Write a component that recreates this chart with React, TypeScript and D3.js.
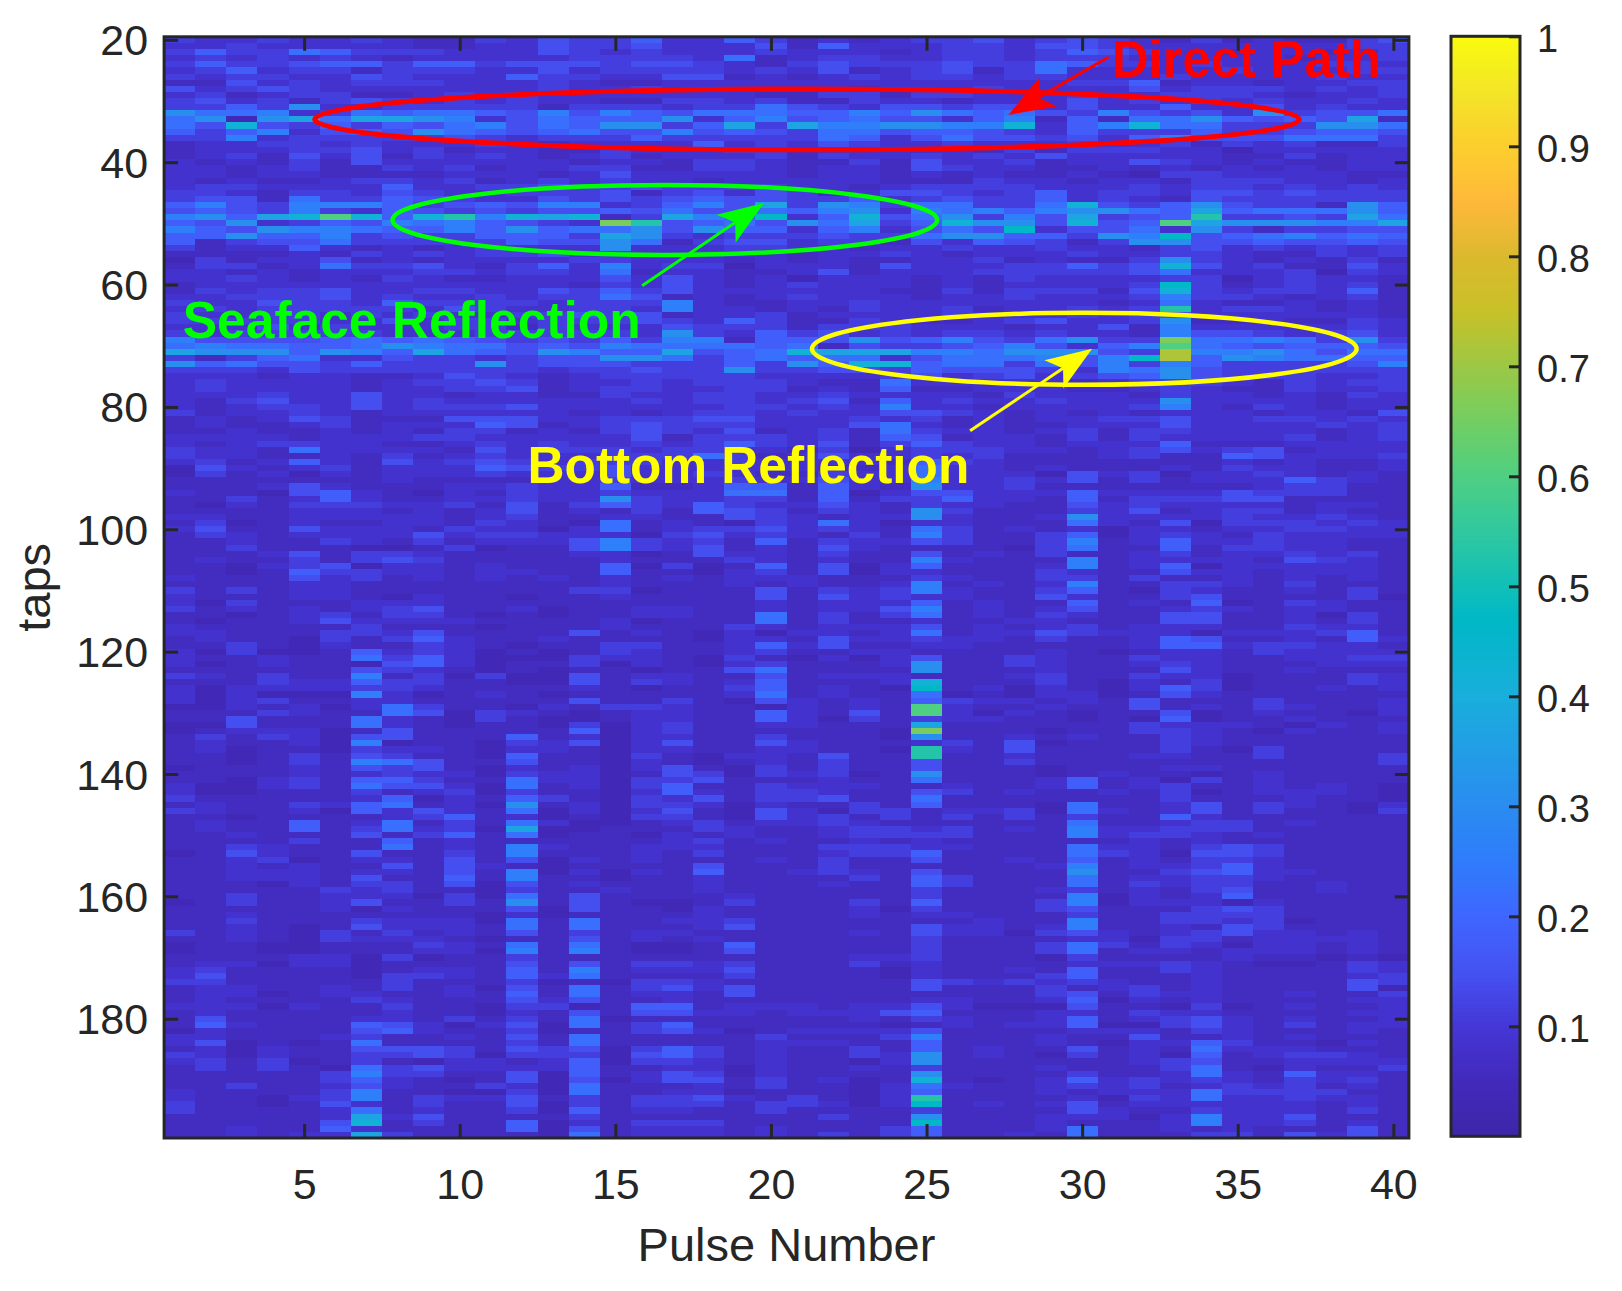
import { useEffect, useRef } from 'react';
import * as d3 from 'd3';

const WIDTH = 1622;
const HEIGHT = 1291;

// Pulse 1..40 across, taps 20..199 down. One character per cell;
// the character is an index into LEVELS.
const LEVELS: Record<string, number> = {
  '0': 0.04, '1': 0.06, '2': 0.085, '3': 0.115, '4': 0.145, '5': 0.18, '6': 0.22, '7': 0.26,
  '8': 0.31, '9': 0.37, a: 0.42, b: 0.47, c: 0.53, d: 0.6, e: 0.66, f: 0.72
};

const taps20to59 = [
  '32232 23211 32433 52253 12123 34234 32131 21134',
  '22322 22211 22433 42224 15222 33244 32222 22233',
  '35336 53332 22432 32223 22212 33235 43221 22123',
  '23232 32122 22233 33261 23322 33233 32222 21223',
  '35334 55355 34443 44321 34333 43365 33232 22332',
  '23523 31333 22423 33323 24123 41362 22223 22233',
  '32332 24322 25332 24412 12323 32332 22322 22322',
  '11423 23332 22321 12222 22222 22223 35122 12233',
  '42343 22222 22322 32222 22122 23222 24233 32323',
  '23123 31123 23222 22221 13313 32223 22333 21223',
  '34231 34323 23221 13323 11322 12224 23232 32232',
  '33538 22333 33133 32336 43244 34424 22522 42322',
  '86672 36566 54747 54666 55758 65643 74342 83446',
  '68089 69987 24655 58257 45644 25715 16685 45491',
  '64a43 53546 74658 83593 97788 77a25 7a663 33886',
  '53572 45486 54564 47454 36645 54325 33353 34554',
  '33723 33334 32333 53333 36524 64434 25744 46663',
  '12233 23222 32122 22523 24322 32223 22313 23113',
  '12223 34231 22113 22233 12222 21313 33220 22222',
  '12314 24132 32123 12223 13223 23242 22221 13122',
  '21213 14222 22212 21332 11314 22312 24321 21122',
  '22123 11323 12233 11332 12214 32211 21212 12122',
  '22122 11112 22124 22222 12212 12112 10332 22211',
  '21211 23323 12323 22122 22211 13221 22133 32212',
  '23322 22522 33433 43333 22123 33322 23233 23232',
  '33213 32432 23334 13424 31244 32352 33244 34333',
  '34416 33543 22434 34544 33523 43352 32143 33333',
  '57437 77534 54772 35749 38736 6336a 43584 33185',
  '45437 32543 43445 46446 57827 67578 86595 66685',
  '7859a da5ac 7a9a1 3975b 25a46 83749 345c3 34396',
  '54823 54767 5432e c4564 86935 a884a 45d98 88779',
  '75487 76557 58566 84855 25724 64b24 46283 13344',
  '55855 73433 55539 83233 34336 88553 87b45 67565',
  '51344 63333 35448 61344 23314 25431 38844 54454',
  '31225 21212 32228 22233 22122 32232 21342 32323',
  '11112 13232 33423 22322 12232 12223 22332 11323',
  '03122 41212 22233 22212 12112 23121 13832 12131',
  '13312 63342 13527 23302 22142 22335 34a42 31142',
  '22121 22233 23326 12211 24122 23333 34622 23032',
  '22321 21321 12224 24212 02221 21322 22330 23221'
];

const taps60to99 = [
  '12222 22222 22213 24212 32221 21222 23b31 23231',
  '13233 42233 22435 34222 22211 31333 14a32 33251',
  '22333 42322 32336 41212 32221 22322 23733 21231',
  '32243 32533 33233 37211 22322 22222 12621 12121',
  '23233 33324 32233 27221 21322 31223 23c23 32121',
  '32233 23232 23343 41223 12222 32223 23422 22221',
  '33333 22423 32333 43253 11321 12342 23811 21132',
  '22242 32223 31322 24333 13332 22122 41722 22232',
  '32333 33222 33333 28325 34232 33232 21744 32342',
  '74444 56565 43435 37715 54845 74368 33e66 76383',
  '67665 56876 64547 66665 61433 45742 57d65 45554',
  '98885 87596 54875 59456 a9997 76888 43f77 86466',
  '31356 22433 23448 86356 56624 66674 7bf58 76655',
  '85644 35333 83444 33353 85aa5 66364 73753 33347',
  '33324 33333 33233 43383 34435 44432 76843 33333',
  '22212 21124 32123 33332 22234 23423 45843 33223',
  '23222 21233 43122 32333 21162 22221 23332 13233',
  '23222 21223 34123 32233 12151 12221 12321 13223',
  '22232 24221 22113 22332 23222 21322 21322 12132',
  '21342 24232 22222 32332 34152 32232 22822 22122',
  '21233 24233 34222 22233 23272 21222 23721 32122',
  '31223 21222 22212 12332 32244 32121 21222 12214',
  '12124 31114 44223 33442 22323 12122 33422 33232',
  '12112 31222 54123 43332 22462 12112 22422 22323',
  '11211 21213 31213 43241 23163 22123 13322 22123',
  '22221 22233 22222 41333 23154 12213 13222 23123',
  '21233 22112 32322 32353 24135 32212 22511 12222',
  '32216 22221 42333 23322 13023 33221 23423 41222',
  '32211 21312 32223 33631 24223 23111 23115 42223',
  '23125 21423 43233 32232 22215 32111 11112 12112',
  '04212 31222 54334 22222 21126 22121 11213 22112',
  '03120 21222 32224 22321 13226 22204 23022 32121',
  '11111 11211 11223 22232 24227 22324 13122 25321',
  '11124 21112 23225 11255 15218 22311 11111 23311',
  '21104 52102 13223 22266 15024 42225 22224 33311',
  '11312 52112 23228 32233 15133 52215 13334 41111',
  '10213 33223 14135 32532 24213 22114 23222 21221',
  '11112 22121 24121 31543 13218 31113 24123 31211',
  '22112 22221 23112 21143 21228 21128 22223 22321',
  '13012 11221 32106 12103 26202 21116 21403 33232'
];

const taps100to139 = [
  '24114 22213 22026 12334 23216 31212 02212 23322',
  '13212 22242 33222 03423 21317 31135 02321 32222',
  '11211 32131 22247 32315 13224 31137 12522 32211',
  '11311 10013 01147 32412 14211 11036 11513 32211',
  '11124 13321 11122 01422 13114 12131 12312 23231',
  '12113 13431 11112 11132 12117 21117 12222 14321',
  '11023 40221 21115 03015 14025 11127 12502 22221',
  '11015 33221 22115 11023 14022 11132 11422 12221',
  '21114 23121 21212 12122 21113 21133 13112 12121',
  '11112 21111 11112 11121 21127 12127 11332 13111',
  '31312 21111 11133 01114 13237 21135 10321 12131',
  '21112 21021 10112 11114 14232 21142 11341 11130',
  '20311 12221 11111 11112 12225 12115 12150 13211',
  '31212 12341 12011 22112 12247 12124 11232 12211',
  '11012 31331 01011 22116 13136 12132 11441 12031',
  '10112 42222 11112 01116 13112 11221 11441 12131',
  '21111 13111 01112 11132 12224 12123 12221 13221',
  '22111 33241 11141 21020 22126 12243 22202 22351',
  '12110 31352 11211 11022 14223 22131 12541 12152',
  '11310 21132 10113 31125 24112 21111 12552 33221',
  '20300 15232 01013 21123 11221 11121 01221 32222',
  '21121 16352 00032 21031 02024 11321 13221 12233',
  '20121 10452 01130 21023 11128 11321 12321 11222',
  '11111 14321 01011 01146 11118 11121 11421 12111',
  '32131 17130 30041 22114 12221 11231 13220 11132',
  '11132 25331 10041 32125 1112a 11131 02130 11132',
  '20222 23321 11121 01135 1210b 12021 02530 11212',
  '20200 07201 21011 11126 12116 01022 01421 11111',
  '20231 12211 11141 13104 21215 32212 14111 31112',
  '00212 02631 10213 32110 2121d 21121 14121 32112',
  '11132 11640 32101 22115 2141d 20210 11401 21102',
  '11411 16210 31001 22115 20313 22110 10501 12111',
  '00411 16210 11030 23112 21119 11111 13222 10212',
  '01222 01411 11150 23111 1110e 11101 13321 02112',
  '13132 04411 15120 22113 11108 11212 11321 11111',
  '12112 07011 03240 24114 21112 31401 11321 11111',
  '12011 03221 02210 22112 2110c 21411 11310 31111',
  '11013 14311 05110 31022 1411c 11211 12211 31113',
  '11013 17641 14110 21012 13114 11311 11111 11113',
  '01112 14341 02120 24103 13114 11101 11221 11111'
];

const taps140to179 = [
  '11112 12322 03220 14303 23018 11101 21101 21111',
  '11023 15531 16220 33411 12116 11125 12031 21111',
  '20023 16442 06120 35113 22211 21125 12311 21210',
  '20011 13123 03110 25213 32114 31211 21301 22210',
  '31111 12502 15310 32413 34116 11111 11311 12110',
  '12113 25612 08120 33202 11315 11106 11241 32102',
  '32112 05242 16020 24104 20331 22306 21241 31103',
  '11011 11235 12010 33104 23131 31313 11521 11111',
  '12115 12613 16200 12312 23211 11116 11233 12111',
  '12115 13623 09001 11321 12332 31217 22333 11111',
  '11211 14135 16011 02121 12333 31117 23321 21111',
  '11113 11512 11111 12312 11212 11111 12121 11111',
  '11321 11612 17211 22211 13332 21116 22134 31111',
  '01421 14113 17111 21311 12335 11116 32044 31111',
  '11230 12214 14021 21112 13114 11215 12133 21111',
  '11212 11414 21011 11411 13111 11127 12235 21111',
  '11222 12214 17020 21511 23214 11118 11345 22111',
  '11222 14115 17110 11211 11315 31116 12233 21111',
  '11102 13314 04121 11211 12115 31116 13233 11211',
  '11111 32311 03112 11211 11113 11123 12134 11211',
  '11311 22203 06141 11121 11113 11117 02125 11111',
  '01311 24113 18141 00131 11315 11137 02220 21111',
  '11111 20211 14041 10211 11203 11134 11134 31111',
  '11211 11111 02011 11211 11212 21113 11333 31111',
  '11311 13222 06161 12231 11111 12117 11332 30111',
  '11210 14222 16161 11241 11114 22127 11214 31111',
  '31210 31312 14131 22111 11214 22034 21234 22121',
  '11210 32221 01141 21211 11113 11112 20331 22221',
  '01100 11132 16161 00151 11113 11136 31320 22121',
  '01100 11122 07171 00141 11113 11136 12212 22121',
  '11112 20301 13111 11111 11223 11103 11112 11010',
  '12202 20111 14141 33231 11312 11112 22321 00132',
  '23111 10122 15171 22241 11102 11215 11321 11132',
  '24111 10332 15261 11131 11102 11135 11121 11123',
  '33111 11311 13010 33211 11114 32323 21121 11143',
  '12211 21312 04161 34241 11114 11131 23121 11140',
  '12201 22112 15161 22141 11111 11134 13221 12113',
  '12111 13211 14241 12111 11112 21125 02121 11122',
  '22202 11311 03301 55122 21224 20004 11030 12112',
  '12111 11211 02141 44221 22245 11122 13221 11122'
];

const taps180to199 = [
  '14111 12213 13160 11111 11213 21125 12342 12112',
  '15211 15420 24061 35111 11101 21225 00342 13122',
  '02111 14521 13011 34201 22224 11112 22132 11121',
  '22111 23112 14161 11113 11137 11121 14112 12111',
  '24010 16111 13161 11112 22115 11121 02253 11021',
  '12021 14443 14340 35312 11315 12114 12162 22111',
  '32021 13343 03330 45312 11328 12103 12051 23321',
  '23130 13102 21250 33212 11028 11111 12341 12222',
  '13131 06342 22251 12202 11213 11121 11361 02113',
  '11111 37331 14051 24302 11118 11113 11262 15221',
  '11111 35210 14040 24413 1201a 10125 23232 13231',
  '11311 24211 32061 11213 11026 21123 23123 23121',
  '21111 37110 03061 12201 11025 11121 22263 33311',
  '21102 37132 24131 33421 3102c 11112 03262 23221',
  '31101 42131 14031 33313 3202b 12124 12222 22121',
  '31111 26121 13051 22113 11113 11114 21132 22131',
  '11111 29241 11131 11111 13118 11122 20272 24111',
  '11111 4a131 15021 33311 1111b 11121 11272 23121',
  '11211 52111 15041 22212 11135 11126 11212 11141',
  '11212 29311 11061 22212 13135 11216 11133 14241'
];

const pulses = d3.range(1, 41);
const firstTap = 20;
const xTicks = [5, 10, 15, 20, 25, 30, 35, 40];
const yTicks = [20, 40, 60, 80, 100, 120, 140, 160, 180];
const cbTicks = [0.1, 0.2, 0.3, 0.4, 0.5, 0.6, 0.7, 0.8, 0.9, 1];

const cmapStops = [0, 0.05, 0.1, 0.15, 0.2, 0.25, 0.3, 0.4, 0.47, 0.5, 0.55, 0.6, 0.65, 0.7, 0.75, 0.8, 0.85, 0.9, 0.95, 1];
const cmapColors = [
  '#3e26a8', '#4229bb', '#4536d6', '#4552f2', '#3f66ff', '#2f7cfb', '#2a8cf0', '#19aedc', '#00b8c6', '#10bfb8',
  '#30c8a0', '#4fcf82', '#72ce62', '#9cc845', '#c8c128', '#dbb92e', '#ffb93a', '#fcce2e', '#f3e528', '#f9fb0e'
];

const intensity = [...taps20to59, ...taps60to99, ...taps100to139, ...taps140to179, ...taps180to199]
  .map(row => row.replace(/ /g, '').split('').map(c => LEVELS[c]));

// Annotations, in pulse/tap units
const ellipses = [
  { cx: 21.16, cy: 33.0, rx: 15.82, ry: 4.98, color: '#ff0000', sw: 5 },
  { cx: 16.59, cy: 49.43, rx: 8.75, ry: 5.72, color: '#00ff00', sw: 4.5 },
  { cx: 30.07, cy: 70.5, rx: 8.75, ry: 5.88, color: '#ffff00', sw: 4.5 }
];
const arrows = [
  { x0: 30.85, y0: 22.8, x1: 27.63, y1: 32.27, color: '#ff0000' },
  { x0: 15.86, y0: 60.2, x1: 19.78, y1: 46.65, color: '#00ff00' },
  { x0: 26.4, y0: 83.9, x1: 30.32, y1: 70.5, color: '#ffff00' }
];
const notes = [
  { text: 'Direct Path', x: 30.95, y: 26.05, size: 51, color: '#ff0000' },
  { text: 'Seaface Reflection', x: 1.1, y: 68.75, size: 51.5, color: '#00ff00' },
  { text: 'Bottom Reflection', x: 12.18, y: 92.4, size: 51.3, color: '#ffff00' }
];

const App = () => {
  const svgRef = useRef<SVGSVGElement | null>(null);

  useEffect(() => {
    if (!svgRef.current) return;
    const svg = d3.select(svgRef.current);
    svg.selectAll('*').remove();

    const plot = { left: 164.1, right: 1408.9, top: 36.8, bottom: 1138 };
    const bar = { left: 1451, right: 1520, top: 36.3, bottom: 1136.3 };
    const ink = '#262626';

    const x = d3.scaleLinear().domain([0.5, 40.5]).range([plot.left, plot.right]);
    const y = d3.scaleLinear().domain([19.5, 199.5]).range([plot.top, plot.bottom]);
    const color = d3.scaleLinear<string>().domain(cmapStops).range(cmapColors).interpolate(d3.interpolateRgb);
    const cbY = d3.scaleLinear().domain([0, 1]).range([bar.bottom, bar.top]);

    // heat map cells
    svg.append('g')
      .attr('shape-rendering', 'crispEdges')
      .selectAll('g')
      .data(intensity)
      .join('g')
      .each(function (row, r) {
        d3.select(this).selectAll('rect')
          .data(row)
          .join('rect')
          .attr('x', (_, c) => x(pulses[c] - 0.5))
          .attr('y', y(firstTap + r - 0.5))
          .attr('width', x(1.5) - x(0.5) + 0.5)
          .attr('height', y(1.5) - y(0.5) + 0.5)
          .attr('fill', d => color(d));
      });

    // annotations
    svg.append('g').selectAll('ellipse')
      .data(ellipses)
      .join('ellipse')
      .attr('cx', d => x(d.cx))
      .attr('cy', d => y(d.cy))
      .attr('rx', d => x(d.rx) - x(0))
      .attr('ry', d => y(d.ry) - y(0))
      .attr('fill', 'none')
      .attr('stroke', d => d.color)
      .attr('stroke-width', d => d.sw);

    arrows.forEach(a => {
      const tx = x(a.x1), ty = y(a.y1);
      const dx = x(a.x0) - tx, dy = y(a.y0) - ty;
      const len = Math.hypot(dx, dy);
      const ux = dx / len, uy = dy / len;
      const head = 46, half = 17, notch = 35;
      svg.append('line')
        .attr('x1', x(a.x0)).attr('y1', y(a.y0))
        .attr('x2', tx + ux * notch).attr('y2', ty + uy * notch)
        .attr('stroke', a.color).attr('stroke-width', 3);
      const pts = [
        [tx, ty],
        [tx + ux * head - uy * half, ty + uy * head + ux * half],
        [tx + ux * notch, ty + uy * notch],
        [tx + ux * head + uy * half, ty + uy * head - ux * half]
      ];
      svg.append('polygon').attr('points', pts.join(' ')).attr('fill', a.color);
    });

    svg.append('g').selectAll('text')
      .data(notes)
      .join('text')
      .attr('x', d => x(d.x))
      .attr('y', d => y(d.y))
      .attr('font-size', d => d.size)
      .attr('font-weight', 700)
      .attr('fill', d => d.color)
      .text(d => d.text);

    // axes box
    svg.append('rect')
      .attr('x', plot.left).attr('y', plot.top)
      .attr('width', plot.right - plot.left).attr('height', plot.bottom - plot.top)
      .attr('fill', 'none').attr('stroke', ink).attr('stroke-width', 3);

    const styleAxis = (g: d3.Selection<SVGGElement, unknown, null, undefined>, size: number, dy?: string) => {
      g.select('.domain').remove();
      g.selectAll('.tick line').attr('stroke', ink).attr('stroke-width', 3);
      const labels = g.selectAll('.tick text').attr('fill', ink).attr('font-size', size).attr('font-family', 'Liberation Sans');
      if (dy) labels.attr('dy', dy);
    };

    svg.append('g')
      .attr('transform', `translate(0,${plot.bottom})`)
      .call(d3.axisBottom(x).tickValues(xTicks).tickSizeInner(-14).tickSizeOuter(0).tickPadding(30))
      .call(g => styleAxis(g as any, 43));
    svg.append('g')
      .attr('transform', `translate(0,${plot.top})`)
      .call(d3.axisTop(x).tickValues(xTicks).tickSizeInner(-14).tickSizeOuter(0).tickFormat(() => ''))
      .call(g => styleAxis(g as any, 43));
    svg.append('g')
      .attr('transform', `translate(${plot.left},0)`)
      .call(d3.axisLeft(y).tickValues(yTicks).tickSizeInner(-14).tickSizeOuter(0).tickPadding(16))
      .call(g => styleAxis(g as any, 43, '0.35em'));
    svg.append('g')
      .attr('transform', `translate(${plot.right},0)`)
      .call(d3.axisRight(y).tickValues(yTicks).tickSizeInner(-14).tickSizeOuter(0).tickFormat(() => ''))
      .call(g => styleAxis(g as any, 43));

    svg.append('text')
      .attr('x', (plot.left + plot.right) / 2).attr('y', 1261)
      .attr('text-anchor', 'middle').attr('font-size', 47).attr('fill', ink)
      .text('Pulse Number');
    svg.append('text')
      .attr('transform', `translate(50,${(plot.top + plot.bottom) / 2}) rotate(-90)`)
      .attr('text-anchor', 'middle').attr('font-size', 47).attr('fill', ink)
      .text('taps');

    // colour bar
    const steps = d3.range(0, 256).map(i => i / 256);
    const stepH = (bar.bottom - bar.top) / 256;
    svg.append('g')
      .attr('shape-rendering', 'crispEdges')
      .selectAll('rect')
      .data(steps)
      .join('rect')
      .attr('x', bar.left)
      .attr('y', d => cbY(d) - stepH)
      .attr('width', bar.right - bar.left)
      .attr('height', stepH + 0.5)
      .attr('fill', d => color(d + 0.5 / 256));
    svg.append('rect')
      .attr('x', bar.left).attr('y', bar.top)
      .attr('width', bar.right - bar.left).attr('height', bar.bottom - bar.top)
      .attr('fill', 'none').attr('stroke', ink).attr('stroke-width', 3);
    svg.append('g')
      .attr('transform', `translate(${bar.right},0)`)
      .call(d3.axisRight(cbY).tickValues(cbTicks).tickSizeInner(-11).tickSizeOuter(0).tickPadding(17).tickFormat(d => String(d)))
      .call(g => styleAxis(g as any, 38, '0.39em'));
  }, []);

  return (
    <svg
      ref={svgRef}
      width={WIDTH}
      height={HEIGHT}
      viewBox={`0 0 ${WIDTH} ${HEIGHT}`}
      fontFamily="Liberation Sans"
      style={{ position: 'absolute', left: 0, top: 0, background: '#fff' }}
    />
  );
};

export default App;
